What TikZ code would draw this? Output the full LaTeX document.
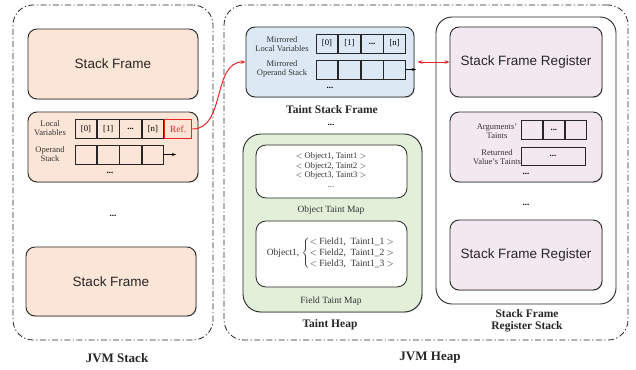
\documentclass[tikz,border=0pt]{standalone}
\usepackage{fontspec}
\setmainfont{Liberation Serif}
\newfontfamily\sflabel{Liberation Sans}
\usetikzlibrary{positioning,shadows,arrows.meta}
\definecolor{framepeach}{HTML}{FBE5D6}
\definecolor{frameblue}{HTML}{DCE9F5}
\definecolor{heapgreen}{HTML}{E2EFD9}
\definecolor{regpink}{HTML}{F4E8F0}
\definecolor{refred}{HTML}{E8262A}
\tikzset{
  region/.style={draw=black!85, line width=0.8pt, rounded corners=20pt,
    dash pattern=on 6pt off 2.5pt on 1.2pt off 2.5pt},
  frame/.style={draw=black!85, line width=0.9pt, rounded corners=9pt,
    drop shadow={opacity=0.35, shadow xshift=0.8pt, shadow yshift=-0.8pt}},
  mapbox/.style={draw=black!85, line width=0.8pt, rounded corners=10pt, fill=white},
  cell/.style={draw=black!85, line width=0.8pt, minimum width=21.5pt,
    minimum height=19pt, inner sep=0pt, font=\fontsize{8.7}{9}\selectfont},
  tiny/.style={font=\fontsize{8.5}{9.5}\selectfont, align=center, text=black!80},
  small/.style={font=\fontsize{9.5}{11}\selectfont, align=center, text=black!80},
  bigname/.style={font=\sflabel\fontsize{13.5}{15}\selectfont, text=black!85},
  caption/.style={font=\fontsize{11.5}{12.5}\selectfont\bfseries, align=center, text=black!85},
  dots/.style={font=\fontsize{9}{9}\selectfont\bfseries},
}
\begin{document}
\begin{tikzpicture}[x=1pt, y=-1pt, node distance=0pt]
\useasboundingbox (0,0) rectangle (636,369);
% the two memory regions
\node[region, minimum width=200pt, minimum height=335pt] (jvmstack) at (113,172.5) {};
\node[region, minimum width=404pt, minimum height=335pt] (jvmheap) at (426,172.5) {};
\node[caption, font=\fontsize{13}{14}\selectfont\bfseries] (stacklbl) at (117,358) {JVM Stack};
\node[caption, font=\fontsize{13}{14}\selectfont\bfseries] (heaplbl) at (430,358) {JVM Heap};

% JVM stack frames
\node[frame, fill=framepeach, minimum width=170pt, minimum height=70pt] (sf1) at (113,64) {};
\node[bigname] at (sf1) {Stack Frame};
\node[frame, fill=framepeach, minimum width=170pt, minimum height=70pt] (sf2) at (113,147) {};
\node[frame, fill=framepeach, minimum width=170pt, minimum height=69pt] (sf3) at (111,281.5) {};
\node[bigname] at (sf3) {Stack Frame};
\node[dots] (stackdots) at (113,216) {...};

% local variables and operand stack
\node[tiny] (lvlbl) at (50,128) {Local\\Variables};
\node[cell] (lv0) at (86,129) {[0]};
\node[cell, right=of lv0] (lv1) {[1]};
\node[cell, right=of lv1] (lv2) {\textbf{...}};
\node[cell, right=of lv2] (lvn) {[n]};
\node[cell, right=of lvn, minimum width=27pt, draw=refred, line width=1.3pt,
  text=refred, font=\fontsize{9.5}{10}\selectfont] (ref) {Ref.};
\node[tiny] (oslbl) at (50,154) {Operand\\Stack};
\node[cell] (os0) at (86,154.5) {};
\node[cell, right=of os0] (os1) {};
\node[cell, right=of os1] (os2) {};
\node[cell, right=of os2] (os3) {};
\coordinate[right=12pt of os3] (osend);
\draw[-{Stealth[length=4pt]}, line width=0.8pt] (os3.east) -- (osend);
\node[dots] at (110,173) {...};

% taint stack frame
\node[frame, fill=frameblue, minimum width=168pt, minimum height=70pt] (tsf) at (330,62) {};
\node[tiny] (mlvlbl) at (282,44) {Mirrored\\Local Variables};
\node[cell, minimum width=21.75pt] (mlv0) at (327,43.5) {[0]};
\node[cell, minimum width=21.75pt, right=of mlv0] (mlv1) {[1]};
\node[cell, minimum width=21.75pt, right=of mlv1] (mlv2) {\textbf{...}};
\node[cell, minimum width=21.75pt, right=of mlv2] (mlvn) {[n]};
\node[tiny] (moslbl) at (282,69) {Mirrored\\Operand Stack};
\node[cell, minimum width=21.75pt] (mos0) at (327,69.5) {};
\node[cell, minimum width=21.75pt, right=of mos0] (mos1) {};
\node[cell, minimum width=21.75pt, right=of mos1] (mos2) {};
\node[cell, minimum width=21.75pt, right=of mos2] (mos3) {};
\coordinate[right=10pt of mos3] (mosend);
\draw[-{Stealth[length=4pt]}, line width=0.8pt] (mos3.east) -- (mosend);
\node[dots] at (330,88) {...};
\node[caption] (tsflbl) at (332,110) {Taint Stack Frame};
\node[dots] at (331,125) {...};

% taint heap
\node[frame, fill=heapgreen, rounded corners=18pt, minimum width=179pt, minimum height=178pt] (theap) at (332.5,223) {};
\node[mapbox, minimum width=151pt, minimum height=53pt] (objmap) at (331.5,171.5) {};
\node[tiny] at (331,170) {$<$ Object1, Taint1 $>$\\$<$ Object2, Taint2 $>$\\$<$ Object3, Taint3 $>$\\...};
\node[small] (objlbl) at (331,210) {Object Taint Map};
\node[mapbox, minimum width=151pt, minimum height=66pt] (fieldmap) at (331.5,254) {};
\node[tiny, font=\fontsize{9.5}{11}\selectfont] at (331,253) {Object1, $\left\{\mbox{\begin{tabular}{@{}l@{}}
  $<$ Field1,\ \ Taint1\_1 $>$\\ $<$ Field2,\ \ Taint1\_2 $>$\\ $<$ Field3,\ \ Taint1\_3 $>$\end{tabular}}\right.$};
\node[small] (fieldlbl) at (331,301) {Field Taint Map};
\node[caption] (theaplbl) at (330,325) {Taint Heap};

% stack frame register stack
\node[draw=black!85, line width=0.9pt, rounded corners=16pt, minimum width=180pt, minimum height=287pt] (sfrs) at (526,160.5) {};
\node[frame, fill=regpink, minimum width=152pt, minimum height=70pt] (sfr1) at (526,62) {};
\node[bigname] at (sfr1) {Stack Frame Register};
\node[frame, fill=regpink, minimum width=152pt, minimum height=70pt] (sfr2) at (526,147) {};
\node[tiny] (arglbl) at (497,131) {Arguments'\\Taints};
\node[cell, minimum width=21.33pt] (arg0) at (531.7,130) {};
\node[cell, minimum width=21.33pt, right=of arg0] (arg1) {\textbf{...}};
\node[cell, minimum width=21.33pt, right=of arg1] (arg2) {};
\node[tiny] (retlbl) at (497,157) {Returned\\Value's Taints};
\node[cell, minimum width=64pt, minimum height=18pt] (ret) at (553,156) {\textbf{...}};
\node[dots] at (526,174) {...};
\node[dots] at (526,205) {...};
\node[frame, fill=regpink, minimum width=152pt, minimum height=70pt] (sfr3) at (526,255) {};
\node[bigname] at (sfr3) {Stack Frame Register};
\node[caption] (sfrslbl) at (527,321) {Stack Frame\\Register Stack};

% references
\draw[refred, line width=1pt, -{Stealth[length=5pt]}] (ref.east) to[out=0, in=180] (tsf.west);
\draw[refred, line width=1pt, {Stealth[length=5pt]}-{Stealth[length=5pt]}, shorten <=3pt] (tsf.east) -- (sfr1.west);
\end{tikzpicture}
\end{document}
